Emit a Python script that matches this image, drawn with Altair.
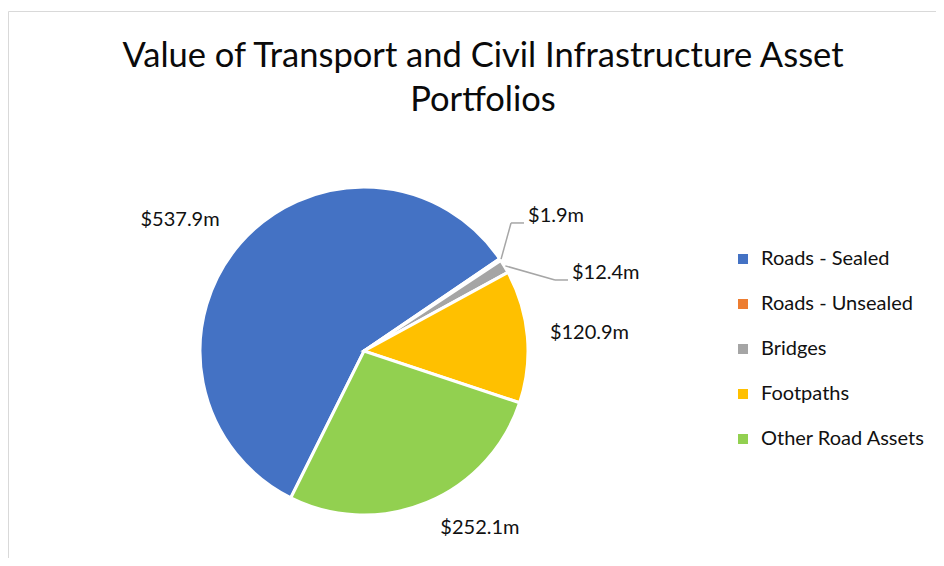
import math
import altair as alt
import pandas as pd

# ---------------- data ----------------
categories = ["Roads - Sealed", "Roads - Unsealed", "Bridges", "Footpaths", "Other Road Assets"]
values = [537.9, 1.9, 12.4, 120.9, 252.1]
value_labels = ["$537.9m", "$1.9m", "$12.4m", "$120.9m", "$252.1m"]
colors = ["#4472C4", "#ED7D31", "#A5A5A5", "#FFC000", "#92D050"]

df = pd.DataFrame({
    "category": categories,
    "value": values,
    "label": value_labels,
    "order": list(range(len(categories))),
})

# ---------------- layout / style ----------------
FONT = "Lato"
W, PAD_TOP = 928, 120
H = 550 - PAD_TOP
CX, CY = 356, 223          # pie centre inside the plot area
R = 164                     # pie radius
START = math.radians(206.5)  # first-slice angle (clockwise from 12 o'clock)

# label placement: angular nudge from slice mid (deg) and radial distance (px)
LABEL_NUDGE = [-6.95, -4.36, 11.95, 2.07, -9.8]
LABEL_RADIUS = [222.4, 208.7, 220.1, 225.8, 216.7]
LEADER_CATS = ["Roads - Unsealed", "Bridges"]


def js(arr):
    return "[" + ",".join(str(a) for a in arr) + "]"


base = (
    alt.Chart(df)
    .transform_window(cum="sum(value)", sort=[alt.SortField("order")], frame=[None, 0])
    .transform_joinaggregate(total="sum(value)")
    .transform_calculate(
        mid=f"{START} + 2*PI*(datum.cum - datum.value/2)/datum.total",
        la=f"datum.mid + {js(LABEL_NUDGE)}[datum.order]*PI/180",
        lr=f"{js(LABEL_RADIUS)}[datum.order]",
        lx=f"{CX} + datum.lr*sin(datum.la)",
        ly=f"{CY} - datum.lr*cos(datum.la)",
        ex=f"{CX} + {R + 1}*sin(datum.mid)",
        ey=f"{CY} - {R + 1}*cos(datum.mid)",
        p2x="datum.lx - 4",
        p1x="datum.lx - 17",
        py="datum.ly + 1",
    )
)

pie = alt.Chart(df).mark_arc(outerRadius=R, stroke="white", strokeWidth=3).encode(
    theta=alt.Theta("value:Q", stack=True,
                    scale=alt.Scale(range=[START, START + 2 * math.pi])),
    color=alt.Color(
        "category:N",
        scale=alt.Scale(domain=categories, range=colors),
        legend=alt.Legend(
            title=None,
            orient="none",
            legendX=725,
            legendY=121,
            symbolType="square",
            symbolSize=100,
            symbolStrokeWidth=0,
            labelFont=FONT,
            labelFontSize=20,
            labelColor="#111111",
            labelOffset=8,
            rowPadding=25,
            padding=0,
            labelLimit=300,
        ),
    ),
    order=alt.Order("order:Q"),
    x=alt.value(CX),
    y=alt.value(CY),
)

xpix = dict(scale=None, axis=None)

labels_center = base.transform_filter(
    alt.FieldOneOfPredicate(field="category", oneOf=[c for c in categories if c not in LEADER_CATS])
).mark_text(font=FONT, fontSize=20, align="center", baseline="alphabetic", color="#111111").encode(
    x=alt.X("lx:Q", **xpix), y=alt.Y("ly:Q", **xpix), text="label:N"
)

labels_left = base.transform_filter(
    alt.FieldOneOfPredicate(field="category", oneOf=LEADER_CATS)
).mark_text(font=FONT, fontSize=20, align="left", baseline="alphabetic", color="#111111").encode(
    x=alt.X("lx:Q", **xpix), y=alt.Y("ly:Q", **xpix), text="label:N"
)

leader_a = base.transform_filter(
    alt.FieldOneOfPredicate(field="category", oneOf=LEADER_CATS)
).mark_rule(color="#A6A6A6", strokeWidth=1.5).encode(
    x=alt.X("ex:Q", **xpix), y=alt.Y("ey:Q", **xpix), x2="p1x:Q", y2="py:Q"
)

leader_b = base.transform_filter(
    alt.FieldOneOfPredicate(field="category", oneOf=LEADER_CATS)
).mark_rule(color="#A6A6A6", strokeWidth=1.5).encode(
    x=alt.X("p1x:Q", **xpix), y=alt.Y("py:Q", **xpix), x2="p2x:Q", y2="py:Q"
)

frame = alt.Chart(pd.DataFrame({"f": [0]})).mark_rect(
    fillOpacity=0, stroke="#D9D9D9", strokeWidth=1
).encode(
    x=alt.value(0.5), y=alt.value(-(PAD_TOP - 3) + 0.5),
    x2=alt.value(2000), y2=alt.value(2000),
)

chart = (
    alt.layer(frame, pie, leader_a, leader_b, labels_center, labels_left)
    .properties(
        width=W,
        height=H,
        autosize=alt.AutoSizeParams(type="none"),
        padding={"left": 0, "top": PAD_TOP, "right": 0, "bottom": 0},
        title=alt.TitleParams(
            text=["Value of Transport and Civil Infrastructure Asset", "Portfolios"],
            font=FONT,
            fontSize=34.5,
            fontWeight="normal",
            color="#0a0a0a",
            anchor="middle",
            lineHeight=44,
            offset=-107,
            dx=11,
        ),
    )
    .configure_view(stroke=None)
)

chart.save("out.html", embed_options={"renderer": "svg", "actions": False})
